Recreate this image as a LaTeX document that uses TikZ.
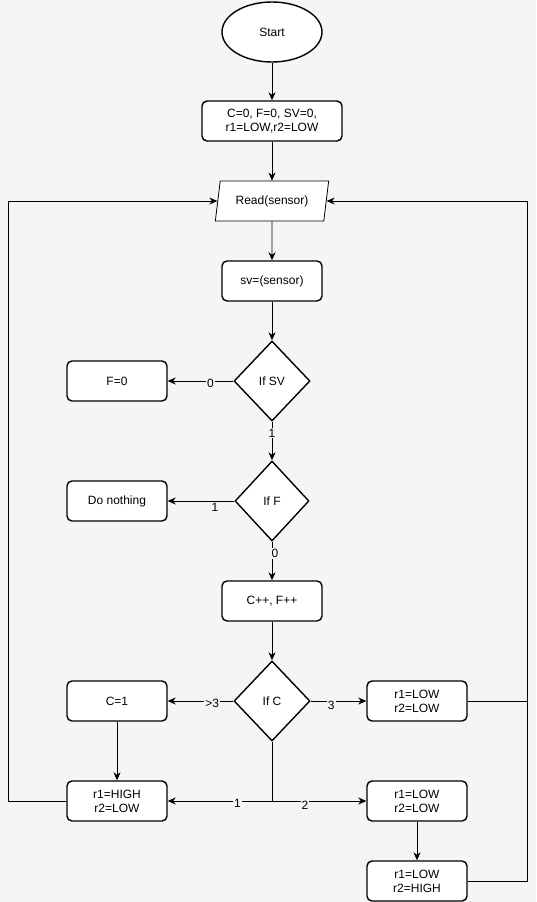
\documentclass[tikz,border=0pt]{standalone}
\usepackage{fontspec}
\setmainfont{Liberation Sans}
\usetikzlibrary{shapes.geometric,arrows.meta}
\definecolor{bg}{HTML}{F5F5F5}
\begin{document}
\begin{tikzpicture}[x=1pt,y=-1pt,
  font=\fontsize{12}{14}\selectfont,
  box/.style={draw,line width=1.4pt,rounded corners=5pt,fill=white,minimum width=100pt,minimum height=40pt,align=center,inner sep=1pt},
  dec/.style={draw,line width=1.4pt,diamond,fill=white,minimum width=76pt,minimum height=80pt,aspect=1,inner sep=0pt},
  conn/.style={line width=0.8pt,-{Stealth[length=8pt,width=7pt,inset=2.5pt]}},
  plain/.style={line width=0.8pt},
  lbl/.style={fill=bg,inner sep=1pt,font=\fontsize{12}{13}\selectfont}]
\fill[bg] (0,0) rectangle (536,902);
\useasboundingbox (0,0) rectangle (536,902);

\node[draw,line width=1.4pt,ellipse,fill=white,minimum width=100pt,minimum height=60pt,inner sep=0pt] (start) at (272,32) {Start};
\node[box,minimum width=140pt] (init) at (272,121) {C=0, F=0, SV=0,\\r1=LOW,r2=LOW};
\node[draw,line width=0.8pt,trapezium,trapezium left angle=73,trapezium right angle=107,trapezium stretches=true,fill=white,minimum width=114pt,minimum height=40pt,inner sep=0pt] (read) at (272,201) {Read(sensor)};
\node[box] (sv) at (272,281) {sv=(sensor)};
\node[dec] (ifsv) at (272,381) {If SV};
\node[box] (f0) at (117,381) {F=0};
\node[dec,minimum width=74pt] (iff) at (272,501) {If F};
\node[box] (nothing) at (117,501) {Do nothing};
\node[box] (cpp) at (272,601) {C++, F++};
\node[dec] (ifc) at (272,701) {If C};
\node[box] (c1) at (117,701) {C=1};
\node[box] (rll1) at (417,701) {r1=LOW\\r2=LOW};
\node[box] (rhl) at (117,801) {r1=HIGH\\r2=LOW};
\node[box] (rll2) at (417,801) {r1=LOW\\r2=LOW};
\node[box] (rlh) at (417,881) {r1=LOW\\r2=HIGH};

\coordinate (lft) at (8,801);
\coordinate (rgt) at (527,881);
\coordinate (j) at (ifc.south |- rhl.center);

\draw[conn] (start) -- (init);
\draw[conn] (init) -- (read);
\draw[conn] (read) -- (sv);
\draw[conn] (sv) -- (ifsv);
\draw[conn] (ifsv) -- node[lbl,pos=0.35,yshift=-2pt]{0} (f0);
\draw[conn] (ifsv) -- node[lbl,pos=0.3]{1} (iff);
\draw[conn] (iff) -- node[lbl,pos=0.29,yshift=-6pt]{1} (nothing);
\draw[conn] (iff) -- node[lbl,pos=0.3,xshift=3pt]{0} (cpp);
\draw[conn] (cpp) -- (ifc);
\draw[conn] (ifc) -- node[lbl,pos=0.32,yshift=-2pt]{>3} (c1);
\draw[conn] (ifc) -- node[lbl,pos=0.37,yshift=-4pt]{3} (rll1);
\draw[plain] (ifc.south) -- (j);
\draw[conn] (j) -- node[lbl,pos=0.33,yshift=-2pt]{1} (rhl);
\draw[conn] (j) -- node[lbl,pos=0.35,yshift=-4pt]{2} (rll2);
\draw[conn] (c1) -- (rhl);
\draw[conn] (rll2) -- (rlh);
\draw[conn] (rhl.west) -- (lft) |- (read.west);
\draw[plain] (rll1.east) -- (rll1.east -| rgt);
\draw[conn] (rlh.east) -- (rgt) |- (read.east);
\end{tikzpicture}
\end{document}
